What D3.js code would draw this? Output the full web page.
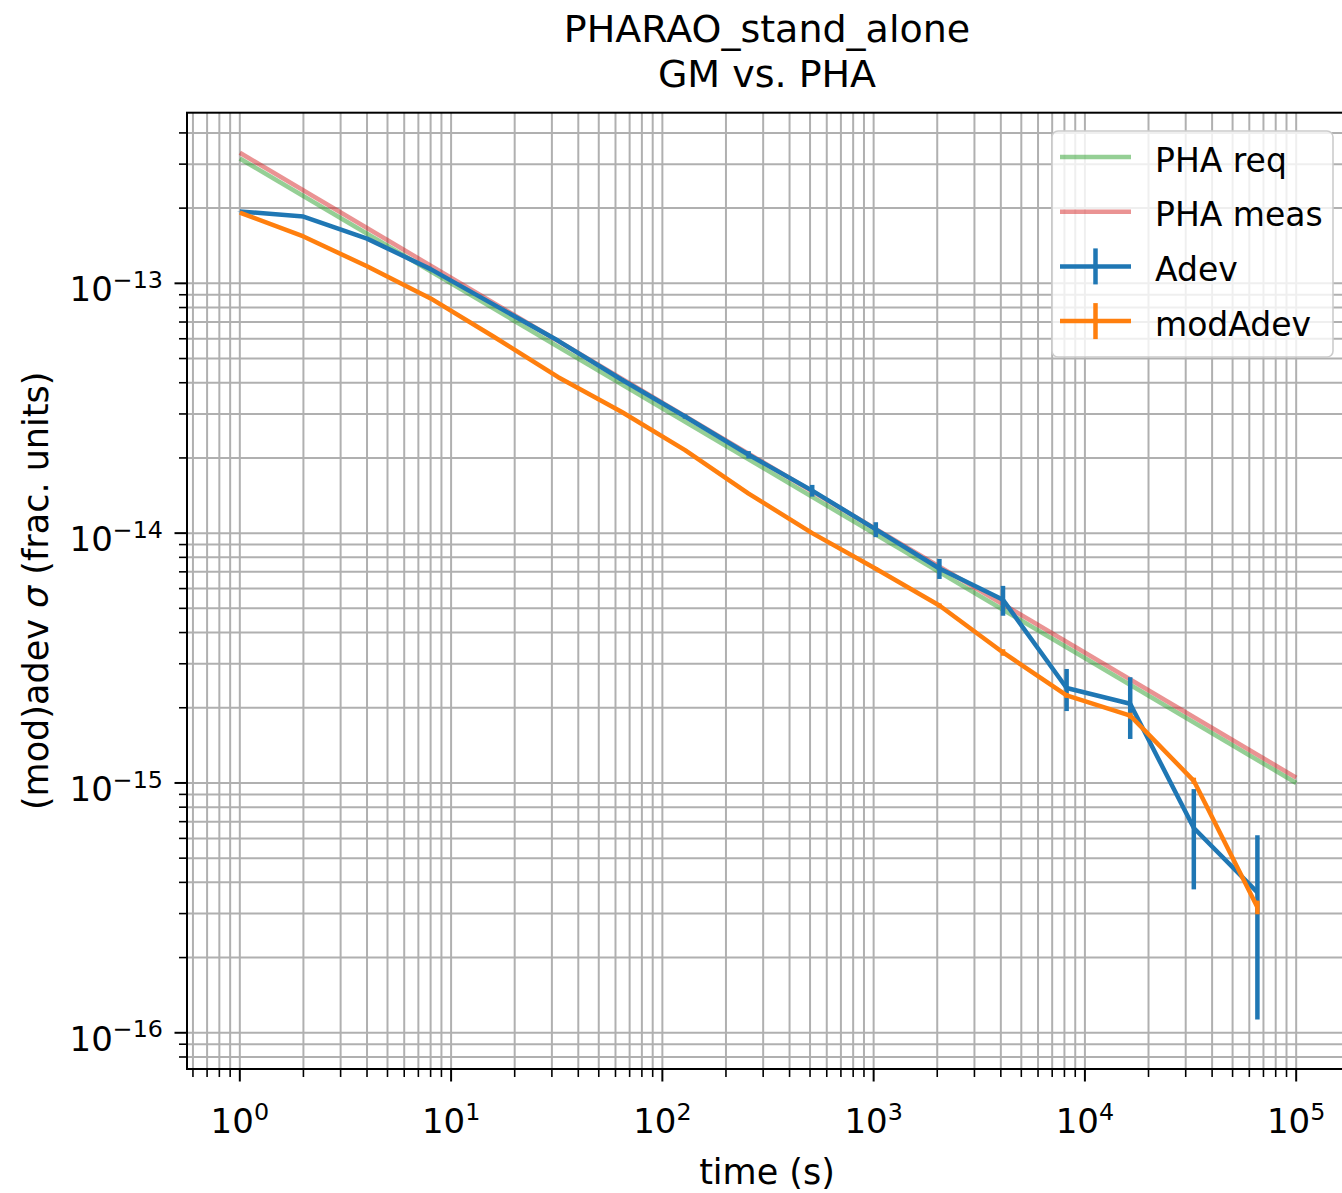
<!DOCTYPE html>
<html>
<head>
<meta charset="utf-8">
<script src="https://cdn.jsdelivr.net/npm/d3@7"></script>
<style>
  html, body { margin: 0; padding: 0; background: #fff; }
  svg { display: block; font-family: "DejaVu Sans", sans-serif; }
</style>
</head>
<body>
<svg id="chart" width="1342" height="1193"></svg>
<script>
// Averaging times (s): octave spacing 2^0 .. 2^16
const tau = [1, 2, 4, 8, 16, 32, 64, 128, 256, 512, 1024, 2048, 4096, 8192, 16384, 32768, 65536];

// Allan deviation and its error bars
const adev = [1.94e-13, 1.85e-13, 1.51e-13, 1.14e-13, 8.2e-14, 5.9e-14, 4.12e-14, 2.93e-14, 2.06e-14,
              1.48e-14, 1.035e-14, 7.22e-15, 5.41e-15, 2.40e-15, 2.075e-15, 6.6e-16, 3.65e-16];
const adevErr = [3e-16, 3.5e-16, 4e-16, 4.5e-16, 5e-16, 5e-16, 5.5e-16, 6e-16, 7e-16,
                 8e-16, 7.1e-16, 6.65e-16, 7.4e-16, 4.6e-16, 5.75e-16, 2.85e-16, 2.52e-16];

// Modified Allan deviation and its error bars
const modAdev = [1.92e-13, 1.54e-13, 1.17e-13, 8.7e-14, 6.1e-14, 4.22e-14, 3.06e-14, 2.15e-14, 1.44e-14,
                 1.0e-14, 7.2e-15, 5.13e-15, 3.33e-15, 2.24e-15, 1.86e-15, 1.02e-15, 3.18e-16];
const modAdevErr = [1e-16, 1e-16, 1e-16, 1e-16, 1e-16, 1e-16, 1e-16, 1e-16, 1e-16,
                    1e-16, 1e-16, 1e-16, 1e-16, 5e-17, 5e-17, 3e-17, 2e-17];

// Requirement and measured white-frequency-noise lines
const lineTau = [1, 1e5];
const phaReq = [3.16e-13, 1.0e-15];
const phaMeas = [3.33e-13, 1.05e-15];

const xMajor = [1, 10, 100, 1000, 10000, 100000];
const xMajorExp = ["0", "1", "2", "3", "4", "5"];
const yMajor = [1e-13, 1e-14, 1e-15, 1e-16];
const yMajorExp = ["\u221213", "\u221214", "\u221215", "\u221216"];

const titleLines = ["PHARAO_stand_alone", "GM vs. PHA"];
const legendLabels = ["PHA req", "PHA meas", "Adev", "modAdev"];

// ---- layout ----
const plot = { left: 187, right: 1349, top: 112.7, bottom: 1069 };
const colors = { req: "#2ca02c", meas: "#d62728", adev: "#1f77b4", mod: "#ff7f0e" };
const gridColor = "#b0b0b0";
const lw = 4.5;
const tickFont = 34, labelFont = 35, legendFont = 33, titleFont = 38;

const svg = d3.select("#chart");

const x = d3.scaleLog()
  .domain([Math.pow(10, -0.25), Math.pow(10, 5.25)])
  .range([plot.left, plot.right]);
const y = d3.scaleLog()
  .domain([Math.pow(10, -16.145), Math.pow(10, -12.317)])
  .range([plot.bottom, plot.top]);

// minor tick positions: 2..9 times each decade, inside the domain
function minorTicks(scale, lo, hi) {
  const out = [];
  const [d0, d1] = scale.domain();
  for (let e = lo; e <= hi; e++) {
    for (let m = 2; m <= 9; m++) {
      const v = m * Math.pow(10, e);
      if (v >= Math.min(d0, d1) && v <= Math.max(d0, d1)) out.push(v);
    }
  }
  return out;
}
const xMinor = minorTicks(x, -1, 5);
const yMinor = minorTicks(y, -17, -13);

const clipId = "plotclip";
svg.append("defs").append("clipPath").attr("id", clipId)
  .append("rect")
  .attr("x", plot.left).attr("y", plot.top)
  .attr("width", plot.right - plot.left).attr("height", plot.bottom - plot.top);

// ---- grid ----
const grid = svg.append("g").attr("stroke", gridColor).attr("stroke-width", 2);
grid.selectAll("line.vx").data(xMajor.concat(xMinor)).join("line")
  .attr("x1", d => x(d)).attr("x2", d => x(d))
  .attr("y1", plot.top).attr("y2", plot.bottom);
grid.selectAll("line.hy").data(yMajor.concat(yMinor)).join("line")
  .attr("class", "hy")
  .attr("y1", d => y(d)).attr("y2", d => y(d))
  .attr("x1", plot.left).attr("x2", plot.right);

// ---- data ----
const data = svg.append("g").attr("clip-path", `url(#${clipId})`);
const lineGen = d3.line().x(d => x(d[0])).y(d => y(d[1]));

function drawLine(xs, ys, color, opacity) {
  data.append("path")
    .datum(xs.map((t, i) => [t, ys[i]]))
    .attr("d", lineGen)
    .attr("fill", "none")
    .attr("stroke", color)
    .attr("stroke-opacity", opacity)
    .attr("stroke-width", lw)
    .attr("stroke-linejoin", "round");
}
function drawErr(xs, ys, es, color) {
  drawLine(xs, ys, color, 1);
  data.append("g").selectAll("line").data(xs.map((t, i) => [t, ys[i], es[i]])).join("line")
    .attr("x1", d => x(d[0])).attr("x2", d => x(d[0]))
    .attr("y1", d => y(d[1] - d[2])).attr("y2", d => y(d[1] + d[2]))
    .attr("stroke", color).attr("stroke-width", lw);
}

drawLine(lineTau, phaReq, colors.req, 0.5);
drawLine(lineTau, phaMeas, colors.meas, 0.5);
drawErr(tau, adev, adevErr, colors.adev);
drawErr(tau, modAdev, modAdevErr, colors.mod);

// ---- axes ----
const axX = svg.append("g").attr("transform", `translate(0,${plot.bottom})`);
axX.selectAll("line.maj").data(xMajor).join("line")
  .attr("x1", d => x(d)).attr("x2", d => x(d)).attr("y1", 0).attr("y2", 12.5)
  .attr("stroke", "#000").attr("stroke-width", 2);
axX.selectAll("line.min").data(xMinor).join("line")
  .attr("x1", d => x(d)).attr("x2", d => x(d)).attr("y1", 0).attr("y2", 8)
  .attr("stroke", "#000").attr("stroke-width", 1.6);
axX.selectAll("text").data(xMajor).join("text")
  .attr("x", d => x(d)).attr("y", 64)
  .attr("text-anchor", "middle")
  .attr("font-size", tickFont).attr("fill", "#000")
  .each(function (d, i) {
    const t = d3.select(this);
    t.append("tspan").text("10");
    t.append("tspan").attr("dy", -13).attr("font-size", tickFont * 0.7).text(xMajorExp[i]);
  });

const axY = svg.append("g").attr("transform", `translate(${plot.left},0)`);
axY.selectAll("line.maj").data(yMajor).join("line")
  .attr("y1", d => y(d)).attr("y2", d => y(d)).attr("x1", 0).attr("x2", -12.5)
  .attr("stroke", "#000").attr("stroke-width", 2);
axY.selectAll("line.min").data(yMinor).join("line")
  .attr("y1", d => y(d)).attr("y2", d => y(d)).attr("x1", 0).attr("x2", -8)
  .attr("stroke", "#000").attr("stroke-width", 1.6);
axY.selectAll("text").data(yMajor).join("text")
  .attr("x", -24).attr("y", d => y(d) + 18)
  .attr("text-anchor", "end")
  .attr("font-size", tickFont).attr("fill", "#000")
  .each(function (d, i) {
    const t = d3.select(this);
    t.append("tspan").text("10");
    t.append("tspan").attr("dy", -13.4).attr("font-size", tickFont * 0.7).text(yMajorExp[i]);
  });

// spines
svg.append("rect")
  .attr("x", plot.left).attr("y", plot.top)
  .attr("width", plot.right - plot.left).attr("height", plot.bottom - plot.top)
  .attr("fill", "none").attr("stroke", "#000").attr("stroke-width", 2);

// ---- labels ----
svg.append("text")
  .attr("x", (plot.left + plot.right) / 2 - 1).attr("y", 1184)
  .attr("text-anchor", "middle").attr("font-size", labelFont)
  .text("time (s)");

const yl = svg.append("text")
  .attr("transform", `translate(48,${(plot.top + plot.bottom) / 2}) rotate(-90)`)
  .attr("text-anchor", "middle").attr("font-size", labelFont);
yl.append("tspan").text("(mod)adev ");
yl.append("tspan").attr("font-style", "italic").text("\u03c3");
yl.append("tspan").text(" (frac. units)");

svg.append("g").selectAll("text").data(titleLines).join("text")
  .attr("x", 767).attr("y", (d, i) => 41.7 + i * 45.6)
  .attr("text-anchor", "middle").attr("font-size", titleFont)
  .text(d => d);

// ---- legend ----
const lg = svg.append("g");
lg.append("rect")
  .attr("x", 1052).attr("y", 131).attr("width", 281).attr("height", 226)
  .attr("rx", 6).attr("ry", 6)
  .attr("fill", "#fff").attr("fill-opacity", 0.8)
  .attr("stroke", "#cccccc").attr("stroke-width", 1.6);
const legendItems = [
  { label: legendLabels[0], color: colors.req, op: 0.5, err: false },
  { label: legendLabels[1], color: colors.meas, op: 0.5, err: false },
  { label: legendLabels[2], color: colors.adev, op: 1, err: true },
  { label: legendLabels[3], color: colors.mod, op: 1, err: true }
];
legendItems.forEach((it, i) => {
  const cy = 157 + i * 54.7;
  lg.append("line")
    .attr("x1", 1060).attr("x2", 1131).attr("y1", cy).attr("y2", cy)
    .attr("stroke", it.color).attr("stroke-opacity", it.op).attr("stroke-width", lw);
  if (it.err) {
    lg.append("line")
      .attr("x1", 1095.5).attr("x2", 1095.5).attr("y1", cy - 18).attr("y2", cy + 18)
      .attr("stroke", it.color).attr("stroke-width", lw);
  }
  lg.append("text")
    .attr("x", 1155).attr("y", cy + 14.5)
    .attr("font-size", legendFont).attr("fill", "#000")
    .text(it.label);
});
</script>
</body>
</html>
